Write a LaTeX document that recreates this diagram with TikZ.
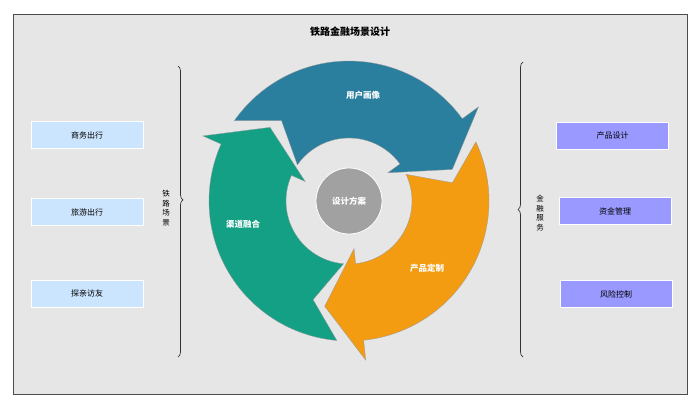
\documentclass[tikz,border=0pt]{standalone}
\usepackage{fontspec}
\setmainfont{Noto Sans CJK SC}
\usetikzlibrary{decorations.pathreplacing}
\definecolor{bgc}{HTML}{E6E6E6}
\definecolor{cblue}{HTML}{2A7F9E}
\definecolor{cgreen}{HTML}{13A085}
\definecolor{corange}{HTML}{F39C12}
\definecolor{lbox}{HTML}{CCE5FF}
\definecolor{rbox}{HTML}{9999FF}
\newcommand{\cycarrow}[2]{%
  \pgfmathsetmacro{\eA}{#2-109}\pgfmathsetmacro{\tA}{#2-128}\pgfmathsetmacro{\nA}{#2-15}%
  \fill[#1,draw=black!40,line width=0.3pt] (#2:140) arc[start angle=#2,end angle=\eA,radius=140]
    -- (\eA:160) -- (\tA:108) -- (\eA:48) -- (\eA:63)
    arc[start angle=\eA,end angle=#2,radius=63] -- (\nA:105) -- cycle;}
\begin{document}
\begin{tikzpicture}[x=1pt,y=1pt,
  lb/.style={draw=white,line width=0.8pt,fill=lbox,minimum width=112pt,minimum height=27pt,inner sep=0pt,font=\fontsize{8}{9}\selectfont},
  rb/.style={lb,fill=rbox},
  wt/.style={text=white,font=\bfseries\fontsize{8.5}{10}\selectfont},
  vt/.style={align=center,font=\fontsize{7.5}{9.5}\selectfont,inner sep=0pt},
  br/.style={decorate,line width=0.7pt,draw=black!80}]
\useasboundingbox (0,0) rectangle (700,408);
\fill[white] (0,0) rectangle (700,408);
\draw[fill=bgc,draw=black!70,line width=0.8pt] (13,14) rectangle (687,394);
\node[font=\bfseries\fontsize{10}{12}\selectfont] (title) at (350,376) {铁路金融场景设计};
\node[lb] (l1) at (87,273) {商务出行};
\node[lb] (l2) at (87,196) {旅游出行};
\node[lb] (l3) at (87,114.5) {探亲访友};
\node[rb] (r1) at (612.5,272.5) {产品设计};
\node[rb] (r2) at (615,197) {资金管理};
\node[rb] (r3) at (616,114) {风险控制};
\coordinate (la) at (178,342); \coordinate (lz) at (178,51);
\coordinate (ra) at (523,51); \coordinate (rz) at (523,346);
\draw[br,decoration={brace,amplitude=5pt,aspect=0.46}] (la) -- (lz);
\draw[br,decoration={brace,amplitude=5pt,aspect=0.5}] (ra) -- (rz);
\node[vt] (lt) at (166,200) {铁\\路\\场\\景};
\node[vt] (rt) at (540,195) {金\\融\\服\\务};
\begin{scope}[shift={(349,207)}]
\cycarrow{cblue}{145}
\cycarrow{corange}{25}
\cycarrow{cgreen}{-95}
\node[circle,fill=black!37,draw=white,line width=0.8pt,minimum size=66pt,wt] (c) at (0,0) {设计方案};
\node[wt] (t1) at (14,106) {用户画像};
\node[wt] (t2) at (-106,-23) {渠道融合};
\node[wt] (t3) at (78,-67) {产品定制};
\end{scope}
\end{tikzpicture}
\end{document}
